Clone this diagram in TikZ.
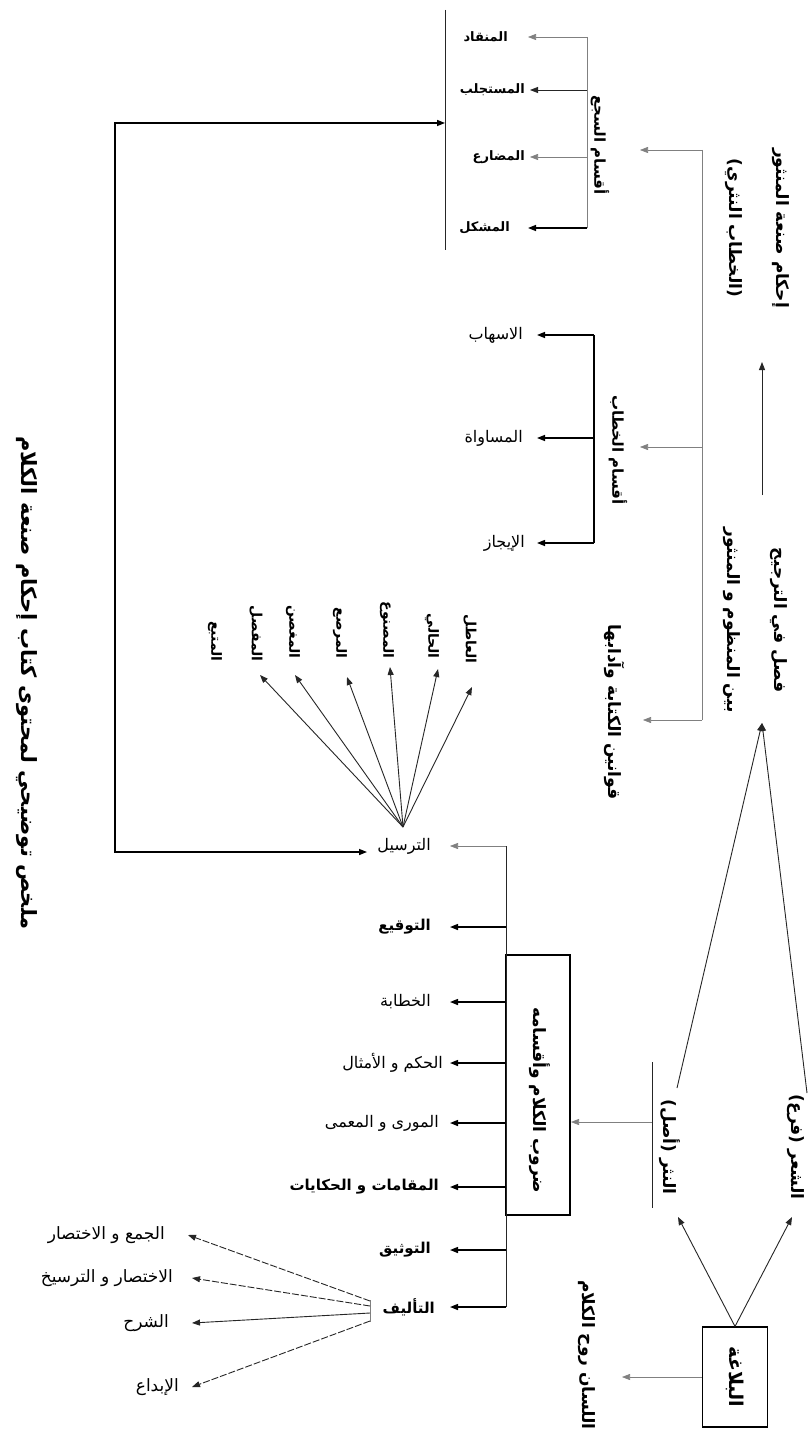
\documentclass[tikz,border=0pt]{standalone}
\usepackage{fontspec}
\usetikzlibrary{arrows.meta,calc}
\newfontfamily\ar[Script=Arabic]{DejaVu Sans}
\TeXXeTstate=1
\newcommand{\AR}[1]{\beginR #1\endR}
\tikzset{
  hl/.style={font=\ar\fontsize{16}{18}\selectfont, inner sep=1pt, anchor=east},
  hlb/.style={font=\ar\bfseries\fontsize{15}{17}\selectfont, inner sep=1pt, anchor=east},
  sl/.style={font=\ar\bfseries\fontsize{13}{15}\selectfont, inner sep=1pt, anchor=east},
  rl/.style={rotate=-90, font=\ar\bfseries\fontsize{17}{47}\selectfont, inner sep=1pt, align=center},
  rls/.style={rotate=-90, font=\ar\bfseries\fontsize{15}{17}\selectfont, inner sep=1pt, align=center},
  fl/.style={rotate=-90, font=\ar\bfseries\fontsize{14}{16}\selectfont, inner sep=1pt, anchor=east},
  tip/.style={-{Triangle[length=8pt,width=6pt]}},
  thinln/.style={draw=black!50, line width=0.6pt},
  medln/.style={draw=black!85, line width=0.9pt},
  thickln/.style={draw=black, line width=1.4pt},
  dashln/.style={draw=black!85, line width=0.9pt, dash pattern=on 7pt off 2pt},
}
\begin{document}
\begin{tikzpicture}[x=1pt,y=-1pt]
\useasboundingbox (0,0) rectangle (809,1431);
\fill[white] (0,0) rectangle (809,1431);

% title
\node[rl, font=\ar\bfseries\fontsize{21}{24}\selectfont] (title) at (27,683) {\AR{ملخص توضيحي لمحتوى كتاب إحكام صنعة الكلام}};

% right column
\node[rl] (ihkam) at (757,228) {\AR{إحكام صنعة المنثور}\\\AR{(الخطاب النثري)}};
\node[rl] (fasl) at (755,620) {\AR{فصل في الترجيح}\\\AR{بين المنظوم و المنثور}};
\coordinate (upS) at (762,495);
\coordinate (upE) at (762,362);
\draw[medln,tip] (upS) -- (upE);

% top-right trunk
\node[rls] (sajL) at (600,145) {\AR{أقسام السجع}};
\node[rls] (khitabL) at (618,450) {\AR{أقسام الخطاب}};
\node[rl] (qawanin) at (615,712) {\AR{قوانين الكتابة وآدابها}};
\coordinate (rt1) at (702,150);
\coordinate (rt2) at (702,447);
\coordinate (rt3) at (702,720);
\coordinate (sajA) at (640,150);
\coordinate (khA) at (640,447);
\coordinate (qwA) at (643,720);
\draw[thinln] (rt1) -- (rt3);
\draw[thinln,tip] (rt1) -- (sajA);
\draw[thinln,tip] (rt2) -- (khA);
\draw[thinln,tip] (rt3) -- (qwA);

% saj group
\coordinate (sj1) at (587,37);
\coordinate (sj2) at (587,90);
\coordinate (sj3) at (587,157);
\coordinate (sj4) at (587,228);
\draw[thinln] (sj1) -- (sj4);
\node[sl] (munqad) at (509,37) {\AR{المنقاد}};
\node[sl] (mustajlab) at (526,90) {\AR{المستجلب}};
\node[sl] (mudari) at (526,157) {\AR{المضارع}};
\node[sl] (mushkil) at (511,228) {\AR{المشكل}};
\draw[thinln,tip] (sj1) -- ([xshift=19pt]munqad.east);
\draw[medln,tip] (sj2) -- ([xshift=4pt]mustajlab.east);
\draw[thinln,tip] (sj3) -- ([xshift=4pt]mudari.east);
\draw[thickln,tip] (sj4) -- ([xshift=17pt]mushkil.east);

% bar receiving the big connector
\coordinate (bar1) at (445,10);
\coordinate (bar2) at (445,250);
\coordinate (barA) at (445,123);
\draw[medln] (bar1) -- (bar2);

% khitab group
\coordinate (kh1) at (594,335);
\coordinate (kh2) at (594,438);
\coordinate (kh3) at (594,543);
\draw[thickln] (kh1) -- (kh3);
\node[hl] (ishab) at (524,335) {\AR{الاسهاب}};
\node[hl] (musawat) at (524,438) {\AR{المساواة}};
\node[hl] (ijaz) at (526,543) {\AR{الإيجاز}};
\draw[thickln,tip] (kh1) -- ([xshift=13pt]ishab.east);
\draw[thickln,tip] (kh2) -- ([xshift=13pt]musawat.east);
\draw[thickln,tip] (kh3) -- ([xshift=11pt]ijaz.east);

% tarsil fan
\node[fl] (mutba) at (215,663) {\AR{المتبع}};
\node[fl] (mufassal) at (256,663) {\AR{المفصل}};
\node[fl] (mughassan) at (293,660) {\AR{المغصن}};
\node[fl] (murassa) at (340,660) {\AR{المرصع}};
\node[fl] (masnu) at (387,660) {\AR{المصنوع}};
\node[fl] (hali) at (432,660) {\AR{الحالي}};
\node[fl] (atil) at (470,665) {\AR{العاطل}};
\coordinate (fanO) at (403,827);
\coordinate (t1) at (260,675);
\coordinate (t2) at (295,675);
\coordinate (t3) at (347,677);
\coordinate (t4) at (390,667);
\coordinate (t5) at (438,669);
\coordinate (t6) at (472,687);
\foreach \t in {t1,t2,t3,t4,t5,t6} \draw[medln,tip] (fanO) -- (\t);

% durub
\node[draw, line width=1.2pt, minimum width=64pt, minimum height=260pt, inner sep=0pt] (durubBox) at (538,1085) {};
\node[rl] (durubT) at (540,1100) {\AR{ضروب الكلام وأقسامه}};
\coordinate (d1) at (506,846);
\coordinate (d2) at (506,927);
\coordinate (d3) at (506,1002);
\coordinate (d4) at (506,1063);
\coordinate (d5) at (506,1123);
\coordinate (d6) at (506,1187);
\coordinate (d7) at (506,1250);
\coordinate (d8) at (506,1307);
\draw[medln] (d1) -- (d8);
\node[hl] (tarsil) at (432,846) {\AR{الترسيل}};
\node[hlb] (tawqi) at (432,927) {\AR{التوقيع}};
\node[hl] (khataba) at (432,1002) {\AR{الخطابة}};
\node[hl] (hikam) at (444,1063) {\AR{الحكم و الأمثال}};
\node[hl] (muwarra) at (440,1123) {\AR{المورى و المعمى}};
\node[hlb] (maqamat) at (440,1187) {\AR{المقامات و الحكايات}};
\node[hlb] (tawthiq) at (432,1250) {\AR{التوثيق}};
\node[hlb] (talif) at (436,1307) {\AR{التأليف}};
\draw[thinln,tip] (d1) -- ([xshift=18pt]tarsil.east);
\draw[thickln,tip] (d2) -- ([xshift=18pt]tawqi.east);
\draw[thickln,tip] (d3) -- ([xshift=18pt]khataba.east);
\draw[thickln,tip] (d4) -- ([xshift=6pt]hikam.east);
\draw[thickln,tip] (d5) -- ([xshift=10pt]muwarra.east);
\draw[thickln,tip] (d6) -- ([xshift=10pt]maqamat.east);
\draw[thickln,tip] (d7) -- ([xshift=18pt]tawthiq.east);
\draw[thickln,tip] (d8) -- ([xshift=14pt]talif.east);

% big connector
\coordinate (corner) at (115,852);
\coordinate (tarsilA) at (367,852);
\draw[thickln,{Triangle[length=8pt,width=6pt]}-{Triangle[length=8pt,width=6pt]}] (barA) -| (corner) -- (tarsilA);

% talif fan
\coordinate (tb1) at (370,1300);
\coordinate (tb2) at (370,1322);
\draw[thinln] (tb1) -- (tb2);
\node[hl, font=\ar\fontsize{17}{19}\selectfont] (jam) at (166,1235) {\AR{الجمع و الاختصار}};
\node[hl, font=\ar\fontsize{17}{19}\selectfont] (ikhtisar) at (174,1278) {\AR{الاختصار و الترسيخ}};
\node[hl, font=\ar\fontsize{17}{19}\selectfont] (sharh) at (170,1323) {\AR{الشرح}};
\node[hl, font=\ar\fontsize{17}{19}\selectfont] (ibda) at (180,1387) {\AR{الإبداع}};
\coordinate (ta1) at (370,1301);
\coordinate (ta2) at (370,1306);
\coordinate (ta3) at (370,1313);
\coordinate (ta4) at (370,1321);
\draw[dashln,tip] (ta1) -- ([xshift=22pt]jam.east);
\draw[dashln,tip] (ta2) -- ([xshift=18pt]ikhtisar.east);
\draw[medln,tip] (ta3) -- ([xshift=22pt]sharh.east);
\draw[dashln,tip] (ta4) -- ([xshift=12pt]ibda.east);

% nathr / shir
\node[rl] (nathr) at (670,1147) {\AR{النثر (أصل)}};
\node[rl] (shir) at (796,1147) {\AR{الشعر (فرع)}};
\coordinate (nl1) at (652,1062);
\coordinate (nl2) at (652,1208);
\coordinate (nlA) at (652,1122);
\coordinate (durA) at (571,1122);
\draw[medln] (nl1) -- (nl2);
\draw[thinln,tip] (nlA) -- (durA);
\coordinate (apex) at (762,723);
\coordinate (nTop) at (677,1088);
\coordinate (sTop) at (807,1093);
\draw[medln,tip] (nTop) -- (apex);
\draw[medln,tip] (sTop) -- (apex);

% balagha
\node[rl, font=\ar\bfseries\fontsize{19}{21}\selectfont, draw, line width=1.2pt, minimum width=100pt, minimum height=65pt] (balagha) at (735,1377) {\AR{البلاغة}};
\coordinate (nBot) at (678,1217);
\coordinate (sBot) at (792,1217);
\draw[medln,tip] (balagha.west) -- (nBot);
\draw[medln,tip] (balagha.west) -- (sBot);
\node[rl] (lisan) at (587,1355) {\AR{اللسان روح الكلام}};
\coordinate (lisA) at (622,1377);
\draw[thinln,tip] (balagha.south) -- (lisA);
\end{tikzpicture}
\end{document}
